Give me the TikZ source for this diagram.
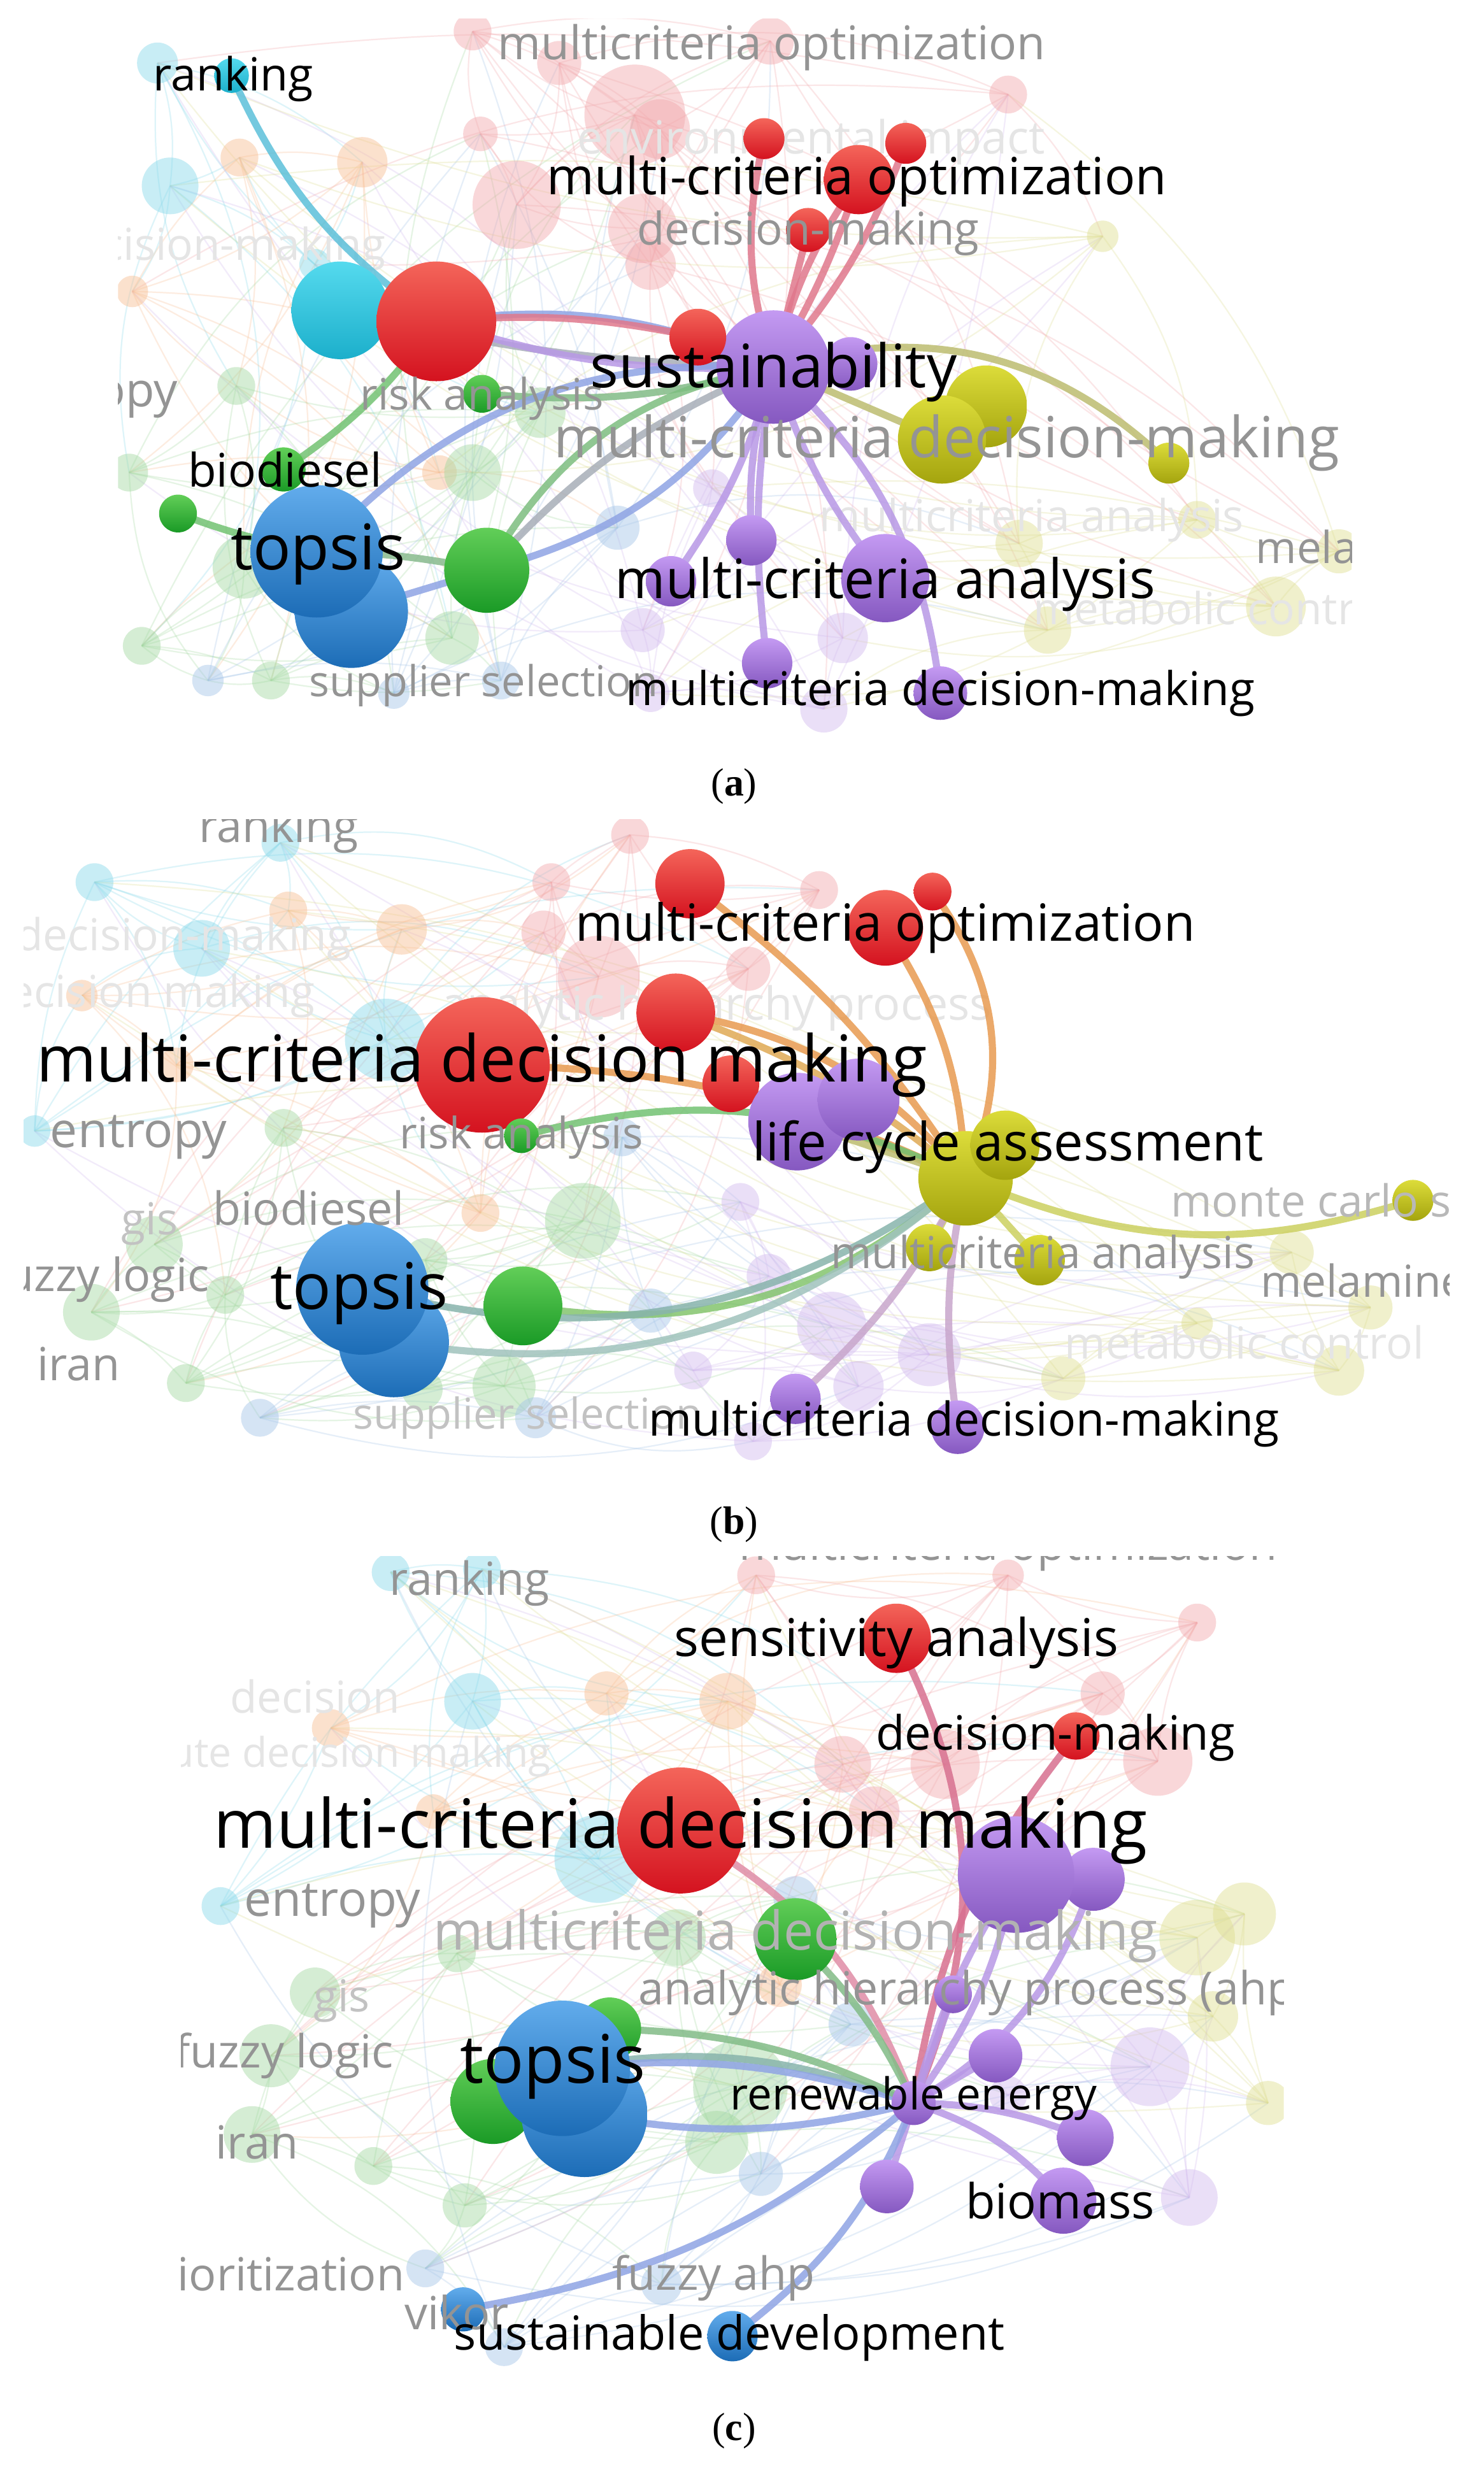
\documentclass[tikz,border=0pt]{standalone}
\usepackage{fontspec}
\setmainfont{Open Sans}
\newfontfamily\capfont{Liberation Serif}
\pgfdeclarelayer{bgfill}
\pgfdeclarelayer{web}
\pgfdeclarelayer{edges}
\pgfdeclarelayer{labels}
\pgfsetlayers{bgfill,web,edges,main,labels}
% node colours
\definecolor{redT}{HTML}{F4655A}\definecolor{redB}{HTML}{D4121F}
\definecolor{cyaT}{HTML}{55DAEE}\definecolor{cyaB}{HTML}{1CAFCB}
\definecolor{grnT}{HTML}{62CE58}\definecolor{grnB}{HTML}{1A9A26}
\definecolor{bluT}{HTML}{62ACEC}\definecolor{bluB}{HTML}{1C6CB6}
\definecolor{purT}{HTML}{C49AF2}\definecolor{purB}{HTML}{8558C0}
\definecolor{yelT}{HTML}{DCDC3A}\definecolor{yelB}{HTML}{A4A40E}
% faint colours
\definecolor{fc}{HTML}{86D8EA}\definecolor{fo}{HTML}{F8BE92}
\definecolor{fg}{HTML}{A2D8A0}\definecolor{fb}{HTML}{A4C4E8}
\definecolor{fp}{HTML}{F2A8AC}\definecolor{fv}{HTML}{D2BAEE}
\definecolor{fy}{HTML}{DEDE90}
% edge colours
\definecolor{eCy}{HTML}{5CC0DA}\definecolor{ePk}{HTML}{E0788C}
\definecolor{eBl}{HTML}{8FA4E4}\definecolor{eGr}{HTML}{72C272}
\definecolor{eGy}{HTML}{A8AEB8}\definecolor{ePu}{HTML}{B898E6}
\definecolor{eOl}{HTML}{BDBD70}\definecolor{eOr}{HTML}{E89A50}
\definecolor{eMv}{HTML}{C8A6CC}\definecolor{eBg}{HTML}{88B4AC}
\definecolor{eYl}{HTML}{CCD060}\definecolor{ePr}{HTML}{D87090}
\newcommand\webnet[2]{%
  \foreach \wx/\wy/\wr/\wc [count=\wi] in {#2}{%
    \coordinate (#1\wi) at (\wx,\wy);%
    \expandafter\xdef\csname wcol#1\wi\endcsname{\wc}%
    \xdef\wN{\wi}%
  }%
  \foreach \wi in {1,...,\wN}{%
    \foreach \wk/\wb in {1/12,2/-10,4/15,7/-18,11/20}{%
      \pgfmathtruncatemacro\wj{mod(\wi+\wk-1,\wN)+1}%
      \expandafter\let\expandafter\wcc\csname wcol#1\wi\endcsname
      \draw[webline,draw=\wcc] (#1\wi) to[bend left=\wb] (#1\wj);%
    }%
  }%
  \foreach \wx/\wy/\wr/\wc in {#2}{%
    \fill[\wc,opacity=0.45] (\wx,\wy) circle (\wr pt);%
  }%
}
\begin{document}
\begin{tikzpicture}[x=1pt,y=-1pt,
  nd/.style={circle,inner sep=0pt,minimum size=2*#1pt},
  redb/.style={nd=#1,top color=redT,bottom color=redB},
  cyab/.style={nd=#1,top color=cyaT,bottom color=cyaB},
  grnb/.style={nd=#1,top color=grnT,bottom color=grnB},
  blub/.style={nd=#1,top color=bluT,bottom color=bluB},
  purb/.style={nd=#1,top color=purT,bottom color=purB},
  yelb/.style={nd=#1,top color=yelT,bottom color=yelB},
  edge/.style={line width=4.5pt,opacity=0.85,line cap=round},
  webline/.style={line width=0.9pt,opacity=0.28},
  lab/.style={font=\fontsize{#1}{#1}\selectfont,inner sep=0pt,text=black},
  glab/.style={lab=#1,text=black!42},
  flab/.style={lab=#1,text=black!10},
  caplab/.style={font=\capfont\fontsize{25}{25}\selectfont,inner sep=0pt}]
\useasboundingbox (0,0) rectangle (942,1568);
\begin{pgfonlayer}{bgfill}
\fill[white] (0,0) rectangle (942,1568);
\end{pgfonlayer}

% ================= faint background webs and faint labels =================
\begin{pgfonlayer}{web}
\begin{scope}
\clip (75,12) rectangle (858,472);
\webnet{A}{100/40/13/fc, 108/118/18/fc, 200/168/10/fc, 152/100/12/fo, 230/103/16/fo, 84/185/10/fo, 279/300/11/fo, 150/245/12/fg, 82/300/12/fg, 343/262/16/fg, 300/300/18/fg, 155/360/20/fg, 287/405/17/fg, 90/410/12/fg, 172/432/12/fg, 132/432/10/fb, 318/432/12/fb, 392/335/14/fb, 250/440/10/fb, 305/85/11/fp, 328/130/28/fp, 403/73/32/fp, 408/145/22/fp, 300/20/12/fp, 489/26/15/fp, 419/82/19/fp, 413/168/16/fp, 355/40/14/fp, 647/345/15/fy, 665/400/15/fy, 810/385/19/fy, 850/350/14/fy, 760/330/12/fy, 452/310/12/fv, 535/405/16/fv, 413/440/12/fv, 523/450/15/fv, 408/400/14/fv, 640/60/12/fp, 700/150/10/fy}
\node[flab=29] (aFei) at (515,90) {environmental impact};
\node[flab=28] (aFmca) at (655,330) {multicriteria analysis};
\node[flab=28] (aFmc) at (770,386) {metabolic control};
\node[flab=28,anchor=east] (aFdm) at (245,158) {decision-making};
\end{scope}
\begin{scope}
\clip (15,520) rectangle (920,940);
\webnet{B}{128/602/18/fc, 178/535/12/fc, 245/660/26/fc, 22/718/10/fc, 60/560/12/fc, 183/578/12/fo, 255/590/16/fo, 52/632/10/fo, 112/676/11/fo, 305/770/12/fo, 345/592/14/fp, 380/620/26/fp, 350/560/12/fp, 400/530/12/fp, 520/565/12/fp, 475/615/14/fp, 180/716/12/fg, 98/790/18/fg, 143/822/12/fg, 58/833/18/fg, 118/878/12/fg, 370/775/24/fg, 270/800/14/fg, 268/882/13/fg, 320/880/20/fg, 165/900/12/fb, 340/900/13/fb, 413/832/14/fb, 395/722/12/fb, 470/763/12/fv, 488/810/14/fv, 528/842/22/fv, 545/880/16/fv, 478/915/12/fv, 440/870/12/fv, 675/875/14/fy, 820/795/14/fy, 870/830/14/fy, 850/870/16/fy, 760/840/10/fy, 590/860/20/fv}
\node[flab=29] (bFahp) at (455,640) {analytic hierarchy process};
\node[flab=28] (bFmc) at (790,852) {metabolic control};
\node[flab=28,anchor=west] (bFdm) at (10,596) {decision-making};
\node[flab=28,anchor=east] (bFud) at (200,632) {attribute decision making};
\end{scope}
\begin{scope}
\clip (115,988) rectangle (815,1512);
\webnet{C}{248/998/12/fc, 306/996/12/fc, 300/1080/18/fc, 140/1210/12/fc, 380/1180/28/fc, 210/1097/12/fo, 385/1075/14/fo, 462/1080/18/fo, 275/1150/11/fo, 495/1260/14/fo, 480/1000/12/fp, 535/1120/18/fp, 600/1120/22/fp, 555/1150/16/fp, 700/1075/14/fp, 735/1118/22/fp, 760/1030/12/fp, 640/1000/10/fp, 200/1265/16/fg, 172/1305/20/fg, 160/1355/18/fg, 237/1375/12/fg, 290/1240/12/fg, 295/1400/14/fg, 470/1325/30/fg, 455/1360/20/fg, 430/1230/18/fg, 270/1440/12/fb, 483/1380/14/fb, 540/1285/14/fb, 505/1205/14/fb, 320/1490/12/fb, 420/1450/13/fb, 730/1312/25/fv, 755/1395/18/fv, 640/1330/12/fv, 760/1230/24/fy, 790/1215/20/fy, 770/1280/16/fy, 805/1335/14/fy}
\node[flab=28] (cFdec) at (200,1077) {decision};
\node[flab=26,anchor=east] (cFud) at (350,1115) {attribute decision making};
\end{scope}
\end{pgfonlayer}

% ================= panel (a) nodes =================
\node[cyab=11] (aRk) at (147,48) {};
\node[cyab=31] (aC1) at (216,197) {};
\node[redb=38] (aR1) at (277,204) {};
\node[redb=13] (aR4) at (485,88) {};
\node[redb=13] (aR5) at (575,91) {};
\node[redb=22] (aR3) at (545,114) {};
\node[redb=14] (aR6) at (513,146) {};
\node[purb=17] (aP1) at (540,231) {};
\node[purb=36] (aS) at (491,233) {};
\node[redb=18] (aR2) at (443,214) {};
\node[yelb=26] (aY1) at (626,258) {};
\node[yelb=28] (aY2) at (598,279) {};
\node[yelb=13] (aY3) at (742,294) {};
\node[grnb=12] (aG1) at (306,250) {};
\node[grnb=14] (aG2) at (180,298) {};
\node[grnb=12] (aG3) at (113,326) {};
\node[blub=36] (aB2) at (223,388) {};
\node[blub=42] (aB1) at (201,350) {};
\node[grnb=27] (aG4) at (309,362) {};
\node[purb=16] (aP2) at (477,343) {};
\node[purb=16] (aP3) at (426,369) {};
\node[purb=28] (aP4) at (562,367) {};
\node[purb=16] (aP5) at (487,421) {};
\node[purb=17] (aP6) at (597,440) {};

% ================= panel (b) nodes =================
\node[redb=22] (bR1) at (438,561) {};
\node[redb=12] (bR2) at (592,566) {};
\node[redb=24] (bR3) at (562,589) {};
\node[redb=25] (bR4) at (429,643) {};
\node[redb=43] (bR5) at (306,676) {};
\node[redb=18] (bR6) at (464,688) {};
\node[purb=31] (bP1) at (506,712) {};
\node[purb=26] (bP2) at (545,698) {};
\node[yelb=30] (bY1) at (613,748) {};
\node[yelb=22] (bY2) at (638,727) {};
\node[yelb=15] (bY3) at (590,792) {};
\node[yelb=16] (bY4) at (660,800) {};
\node[yelb=13] (bY5) at (897,762) {};
\node[grnb=11] (bG1) at (331,721) {};
\node[blub=35] (bB2) at (250,852) {};
\node[blub=42] (bB1) at (230,818) {};
\node[grnb=25] (bG2) at (332,829) {};
\node[purb=16] (bP3) at (505,888) {};
\node[purb=17] (bP4) at (608,906) {};

% ================= panel (c) nodes =================
\node[redb=22] (cR1) at (569,1040) {};
\node[redb=15] (cR2) at (683,1102) {};
\node[redb=40] (cR3) at (432,1162) {};
\node[purb=20] (cP2) at (694,1193) {};
\node[purb=37] (cP1) at (645,1190) {};
\node[grnb=26] (cG1) at (505,1231) {};
\node[purb=12] (cP3) at (605,1266) {};
\node[purb=17] (cP4) at (632,1305) {};
\node[purb=14] (cP5) at (580,1335) {};
\node[purb=18] (cP6) at (689,1357) {};
\node[purb=17] (cP7) at (563,1388) {};
\node[purb=21] (cP8) at (675,1397) {};
\node[grnb=27] (cG2) at (313,1334) {};
\node[grnb=20] (cG3) at (387,1288) {};
\node[blub=40] (cB2) at (371,1342) {};
\node[blub=43] (cB1) at (357,1313) {};
\node[blub=14] (cB3) at (294,1466) {};
\node[blub=16] (cB4) at (465,1483) {};

% ================= edges =================
\begin{pgfonlayer}{edges}
% (a)
\draw[edge,draw=eCy] (aRk.center) to[bend right=15] (aR1.center);
\draw[edge,draw=eBl] (aR1.center) to[bend left=15] (aS.center);
\draw[edge,draw=ePk] (aR1.center) to[bend left=8] (aR2.center);
\draw[edge,draw=eGy] (aC1.center) to[bend right=6] (aS.center);
\draw[edge,draw=ePu] (aR1.center) to[bend right=10] (aS.center);
\draw[edge,draw=eGr!70!eGy] (aG1.center) to[bend right=10] (aS.center);
\draw[edge,draw=eGr] (aG2.center) to[bend right=10] (aR1.center);
\draw[edge,draw=eGr] (aG3.center) to[bend right=5] (aB1.center);
\draw[edge,draw=eBl] (aB1.center) to[bend left=25] (aS.center);
\draw[edge,draw=eGr!60!eGy] (aB1.center) to[bend left=5] (aG4.center);
\draw[edge,draw=eBl] (aB2.center) to (aG4.center);
\draw[edge,draw=eGr!80!eGy] (aG4.center) to[bend left=25] (aS.center);
\draw[edge,draw=eGy] (aG4.center) to[bend left=12] (aS.center);
\draw[edge,draw=eBl] (aG4.center) to[bend right=20] (aS.center);
\draw[edge,draw=eOl] (aS.center) to[bend left=30] (aY3.center);
\draw[edge,draw=eOl] (aS.center) to (aY2.center);
\draw[edge,draw=ePk] (aS.center) to[bend left=10] (aR3.center);
\draw[edge,draw=ePk] (aS.center) to[bend right=6] (aR3.center);
\draw[edge,draw=ePk] (aS.center) to[bend left=15] (aR4.center);
\draw[edge,draw=ePk] (aS.center) to[bend right=10] (aR5.center);
\draw[edge,draw=ePk] (aS.center) to (aR6.center);
\draw[edge,draw=ePu] (aS.center) to[bend right=10] (aP2.center);
\draw[edge,draw=ePu] (aS.center) to[bend left=10] (aP3.center);
\draw[edge,draw=ePu] (aS.center) to[bend right=10] (aP4.center);
\draw[edge,draw=ePu] (aS.center) to[bend right=8] (aP5.center);
\draw[edge,draw=ePu] (aS.center) to[bend left=20] (aP6.center);
\draw[edge,draw=ePu] (aS.center) to (aP1.center);
% (b)
\draw[edge,draw=eOr] (bR1.center) to[bend left=10] (bY1.center);
\draw[edge,draw=eOr] (bR2.center) to[bend left=30] (bY1.center);
\draw[edge,draw=eOr] (bR3.center) to[bend left=15] (bY1.center);
\draw[edge,draw=eOr] (bR4.center) to[bend left=20] (bY1.center);
\draw[edge,draw=eOr!70!eYl] (bR4.center) to[bend left=10] (bY1.center);
\draw[edge,draw=eOr!60!eYl] (bR6.center) to (bY1.center);
\draw[edge,draw=eOr] (bR5.center) to[bend left=12] (bY1.center);
\draw[edge,draw=eGr] (bG1.center) to[bend left=20] (bY1.center);
\draw[edge,draw=eGr!80!eYl] (bG2.center) to[bend right=25] (bY1.center);
\draw[edge,draw=eBg] (bB1.center) to[bend right=25] (bY1.center);
\draw[edge,draw=eBg!80!white] (bB2.center) to[bend right=25] (bY1.center);
\draw[edge,draw=eOl] (bP1.center) to (bY1.center);
\draw[edge,draw=eYl] (bY1.center) to[bend right=20] (bY5.center);
\draw[edge,draw=eYl] (bY1.center) to (bY3.center);
\draw[edge,draw=eYl] (bY1.center) to (bY4.center);
\draw[edge,draw=eMv] (bY1.center) to[bend left=10] (bP3.center);
\draw[edge,draw=eMv] (bY1.center) to[bend right=10] (bP4.center);
% (c)
\draw[edge,draw=ePr] (cP5.center) to[bend right=25] (cR1.center);
\draw[edge,draw=ePr] (cP5.center) to[bend left=15] (cR2.center);
\draw[edge,draw=ePr!80!white] (cR3.center) to[bend left=20] (cP5.center);
\draw[edge,draw=eGr!70!eGy] (cG1.center) to[bend left=10] (cP5.center);
\draw[edge,draw=ePu] (cP5.center) to[bend right=12] (cP1.center);
\draw[edge,draw=ePu] (cP5.center) to[bend left=8] (cP1.center);
\draw[edge,draw=ePu] (cP5.center) to[bend right=20] (cP2.center);
\draw[edge,draw=ePu] (cP5.center) to (cP3.center);
\draw[edge,draw=ePu] (cP5.center) to (cP4.center);
\draw[edge,draw=ePu] (cP5.center) to[bend left=10] (cP6.center);
\draw[edge,draw=ePu] (cP5.center) to (cP7.center);
\draw[edge,draw=ePu] (cP5.center) to[bend left=15] (cP8.center);
\draw[edge,draw=eBg] (cB1.center) to[bend left=15] (cP5.center);
\draw[edge,draw=eBl] (cB1.center) to[bend left=11] (cP5.center);
\draw[edge,draw=eGr!70!eGy] (cG3.center) to[bend left=12] (cP5.center);
\draw[edge,draw=eBl] (cB2.center) to[bend right=12] (cP5.center);
\draw[edge,draw=eBl] (cP5.center) to[bend left=15] (cB3.center);
\draw[edge,draw=eBl] (cP5.center) to[bend left=15] (cB4.center);
\end{pgfonlayer}

% ================= labels =================
\begin{pgfonlayer}{labels}
% (a) grey labels
\begin{scope}
\clip (75,12) rectangle (858,472);
\node[glab=29.5] (aGmo) at (490,30) {multicriteria optimization};
\node[glab=28.6] (aGdm) at (513,148) {decision-making};
\node[glab=27.5] (aGra) at (306,253) {risk analysis};
\node[glab=36] (aGmcdm) at (601,281) {multi-criteria decision-making};
\node[glab=27] (aGss) at (307,435) {supplier selection};
\node[glab=30,anchor=east] (aGent) at (113,252) {entropy};
\node[glab=28,anchor=west] (aGmel) at (797,347) {melamine};
\end{scope}
\node[lab=29] (aLrank) at (148,50) {ranking};
\node[lab=32.5] (aLmco) at (544,115) {multi-criteria optimization};
\node[lab=38] (aLsus) at (491,236) {sustainability};
\node[lab=29.4] (aLbio) at (181,298) {biodiesel};
\node[lab=40] (aLtop) at (202,352) {topsis};
\node[lab=34.5] (aLmca) at (562,371) {multi-criteria analysis};
\node[lab=29.5] (aLmcdm) at (597,440) {multicriteria decision-making};
% (b) grey labels
\begin{scope}
\clip (15,520) rectangle (920,940);
\node[glab=29] (bGrank) at (177,527) {ranking};
\node[glab=31] (bGent) at (88,722) {entropy};
\node[glab=27.5] (bGra) at (331,722) {risk analysis};
\node[glab=29] (bGbio) at (196,767) {biodiesel};
\node[lab=28,text=black!28,anchor=west] (bGmcs) at (743,762) {monte carlo simulation};
\node[glab=29,anchor=east] (bGfl) at (133,812) {fuzzy logic};
\node[lab=28,text=black!24] (bGgis) at (95,777) {gis};
\node[glab=29] (bGiran) at (50,866) {iran};
\node[glab=28] (bGmca) at (662,798) {multicriteria analysis};
\node[glab=28,anchor=west] (bGmel) at (800,813) {melamine};
\node[lab=27,text=black!24] (bGss) at (335,900) {supplier selection};
\end{scope}
\node[lab=32.5] (bLmco) at (562,589) {multi-criteria optimization};
\node[lab=41] (bLmcdm) at (306,676) {multi-criteria decision making};
\node[lab=33.5] (bLlca) at (640,728) {life cycle assessment};
\node[lab=40.7] (bLtop) at (228,821) {topsis};
\node[lab=29.6] (bLmcd2) at (612,904) {multicriteria decision-making};
% (c) grey labels
\begin{scope}
\clip (115,988) rectangle (815,1512);
\node[glab=29] (cGmo) at (640,983) {multicriteria optimization};
\node[glab=29] (cGrank) at (298,1005) {ranking};
\node[glab=31] (cGent) at (211,1210) {entropy};
\node[lab=34,text=black!30] (cGmcdm) at (505,1229) {multicriteria decision-making};
\node[glab=29,anchor=west] (cGahp) at (405,1265) {analytic hierarchy process (ahp)};
\node[lab=28,text=black!24] (cGgis) at (217,1270) {gis};
\node[glab=29,anchor=east] (cGfl) at (250,1305) {fuzzy logic};
\node[glab=29] (cGiran) at (163,1360) {iran};
\node[glab=29,anchor=east] (cGpr) at (257,1447) {prioritization};
\node[glab=29] (cGfa) at (453,1446) {fuzzy ahp};
\node[glab=29] (cGvik) at (290,1468) {vikor};
\end{scope}
\node[lab=33] (cLsa) at (569,1043) {sensitivity analysis};
\node[lab=30] (cLdm) at (670,1103) {decision-making};
\node[lab=43] (cLmcdm) at (432,1162) {multi-criteria decision making};
\node[lab=42.5] (cLtop) at (351,1312) {topsis};
\node[lab=28] (cLre) at (580,1332) {renewable energy};
\node[lab=30.7] (cLbio) at (673,1397) {biomass};
\node[lab=29.8] (cLsd) at (463,1484) {sustainable development};
% captions
\node[caplab] (capA) at (466,499) {(\textbf{a})};
\node[caplab] (capB) at (466,968) {(\textbf{b})};
\node[caplab] (capC) at (466,1543) {(\textbf{c})};
\end{pgfonlayer}
\end{tikzpicture}
\end{document}
